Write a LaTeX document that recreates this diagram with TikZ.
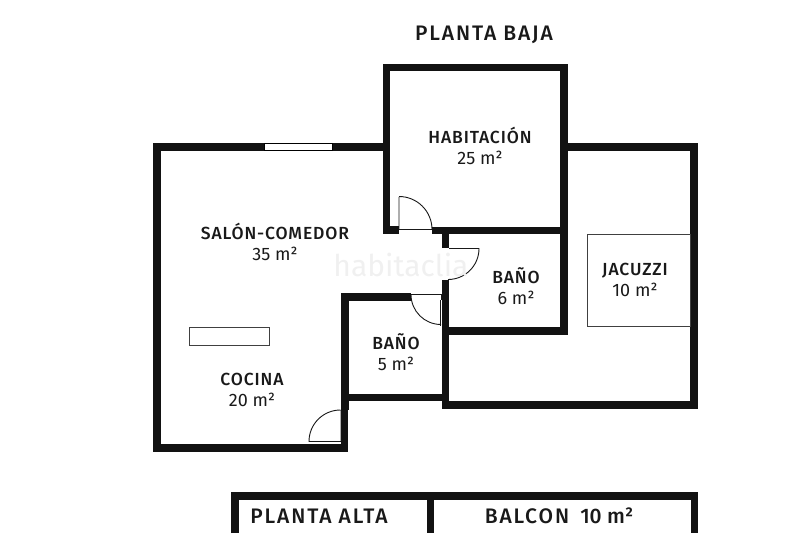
\documentclass[tikz,border=0pt]{standalone}
\usepackage{fontspec}
\setmainfont{Fira Sans}
\newfontfamily\capsfont{Fira Sans Medium}
\usepackage{tikz}
\newcommand{\capsline}[1]{{\capsfont\fontsize{17.5}{21}\selectfont\addfontfeature{LetterSpace=5}#1}}
\newcommand{\titleline}[1]{{\capsfont\addfontfeature{LetterSpace=9}#1}}
\tikzset{wall/.style = {line width = 7.5, black!93, line cap = butt, line join = miter}}
\tikzset{thin door/.style = {line width = 0.9, black!90}}
\tikzset{fixture/.style = {line width = 0.8, black!75}}
\tikzset{room/.style = {align = center, font = \fontsize{18}{20.5}\selectfont, black!90}}
\tikzset{title/.style = {font = \fontsize{21}{23}\selectfont, black!90}}
\begin{document}
\begin{tikzpicture}[x = 1pt, y = -1pt]
    \useasboundingbox (0, 0) rectangle (800, 533);

    \draw [wall] (344.7, 410) -- (344.7, 448) -- (157, 448) -- (157, 147) -- (386.7, 147);
    \draw [wall] (399, 230) -- (386.7, 230) -- (386.7, 67.5) -- (564, 67.5) -- (564, 331) -- (445.5, 331);
    \draw [wall] (568, 147) -- (694, 147) -- (694, 405) -- (445.5, 405) -- (445.5, 280);
    \draw [wall] (432, 230.5) -- (564, 230.5);
    \draw [wall] (445.5, 234) -- (445.5, 248);
    \draw [wall] (411, 297) -- (345, 297) -- (345, 410);
    \draw [wall] (348, 397.5) -- (442, 397.5);

    \draw [draw = black, fill = white, line width = 0.8] (264, 143.5) rectangle (332, 150.5);

    \draw [thin door] (399, 197) -- (399, 229.5) -- (432, 229.5) arc [start angle = 0, end angle = -90, radius = 33];
    \draw [thin door] (449, 248.5) -- (479, 248.5) arc [start angle = 0, end angle = 90, radius = 31];
    \draw [thin door] (411, 294.5) -- (441, 294.5) -- (441, 300);
    \draw [thin door] (440, 300) -- (440, 325.5);
    \draw [thin door] (411, 294.5) arc [start angle = 180, end angle = 90, radius = 30];
    \draw [thin door] (341, 410) -- (341, 441.5) -- (309, 441.5) arc [start angle = 180, end angle = 270, radius = 31.5];

    \draw [fixture] (587, 234) rectangle (690, 326);
    \draw [fixture] (189, 327) rectangle (269, 345);

    \draw [wall] (235, 533) -- (235, 496) -- (694.5, 496) -- (694.5, 533);
    \draw [wall] (430.5, 496) -- (430.5, 533);

    \node [black!6, font = \fontsize{30}{30}\selectfont] (watermark) at (401, 265) {habitaclia};

    \node [title] (plantabaja) at (484, 35) {\titleline{PLANTA BAJA}};
    \node [room] (habitacion) at (480, 146) {\capsline{HABITACIÓN}\\25 m²};
    \node [room] (salon) at (275, 242) {\capsline{SALÓN-COMEDOR}\\35 m²};
    \node [room] (banoa) at (516, 286) {\capsline{BAÑO}\\6 m²};
    \node [room] (jacuzzi) at (635, 280) {\capsline{JACUZZI}\\10 m²};
    \node [room] (banob) at (396, 352) {\capsline{BAÑO}\\5 m²};
    \node [room] (cocina) at (252, 390) {\capsline{COCINA}\\20 m²};
    \node [title] (plantaalta) at (319, 516) {\titleline{PLANTA ALTA}};
    \node [title] (balcon) at (559, 516) {\titleline{BALCON}\ \ {\capsfont 10 m²}};
\end{tikzpicture}
\end{document}
